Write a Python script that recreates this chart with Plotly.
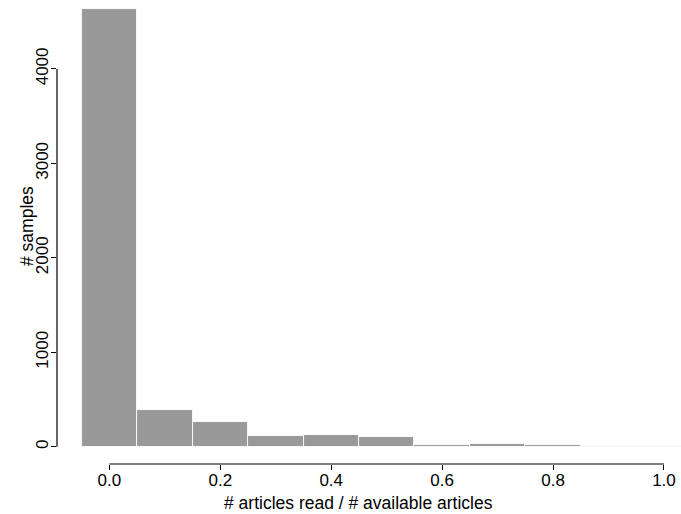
import plotly.graph_objects as go

# Histogram data
bin_centers = [0.0, 0.1, 0.2, 0.3, 0.4, 0.5, 0.6, 0.7, 0.8, 0.9, 1.0]
counts = [4640, 389, 258, 118, 122, 99, 16, 28, 16, 5, 6]
bin_width = 0.1

x_ticks = [0.0, 0.2, 0.4, 0.6, 0.8, 1.0]
y_ticks = [0, 1000, 2000, 3000, 4000]

x_title = "# articles read / # available articles"
y_title = "# samples"

W, H = 681, 514
ML, MB = 57, 50
PW, PH = W - ML, H - MB

X_RANGE = [-0.0945, 1.0307]
Y_RANGE = [-183, 4730]

FONT = "Liberation Sans, Arial, sans-serif"

fig = go.Figure()
fig.add_trace(go.Bar(
    x=bin_centers, y=counts, width=bin_width,
    marker=dict(color="#999999", line=dict(color="white", width=0.9)),
    showlegend=False, hoverinfo="x+y",
))


def xp(v):
    return (v - X_RANGE[0]) / (X_RANGE[1] - X_RANGE[0])


def yp(v):
    return (v - Y_RANGE[0]) / (Y_RANGE[1] - Y_RANGE[0])


shapes = [
    dict(type="line", xref="paper", yref="paper",
         x0=xp(x_ticks[0]), x1=xp(x_ticks[-1]), y0=0, y1=0,
         line=dict(color="black", width=1.2)),
    dict(type="line", xref="paper", yref="paper",
         x0=0, x1=0, y0=yp(y_ticks[0]), y1=yp(y_ticks[-1]),
         line=dict(color="black", width=1.2)),
]

fig.update_layout(
    width=W, height=H,
    margin=dict(l=ML, r=0, t=0, b=MB, pad=0),
    paper_bgcolor="white", plot_bgcolor="white",
    font=dict(family=FONT, size=17, color="black"),
    bargap=0,
    shapes=shapes,
    xaxis=dict(range=X_RANGE, tickvals=x_ticks, tickformat=".1f",
               ticks="outside", ticklen=5, tickwidth=1.2, tickcolor="black",
               ticklabelstandoff=-4,
               showgrid=False, zeroline=False, showline=False,
               automargin=False, tickfont=dict(size=17)),
    yaxis=dict(range=Y_RANGE, tickvals=y_ticks, tickangle=-90,
               ticks="outside", ticklen=5, tickwidth=1.2, tickcolor="black",
               ticklabelstandoff=-4,
               showgrid=False, zeroline=False, showline=False,
               automargin=False, tickfont=dict(size=17)),
    annotations=[
        dict(text=x_title, xref="paper", yref="paper",
             x=(358 - ML) / PW, y=-(503 - PH) / PH,
             xanchor="center", yanchor="middle", showarrow=False,
             font=dict(size=17.5)),
        dict(text=y_title, xref="paper", yref="paper",
             x=-(ML - 27) / PW, y=(PH - 226) / PH, textangle=-90,
             xanchor="center", yanchor="middle", showarrow=False,
             font=dict(size=17.5)),
    ],
)

fig.write_html(
    "out.html",
    config={"displayModeBar": False},
    post_script="document.body.style.margin='0';"
                "document.body.style.overflow='hidden';",
)
